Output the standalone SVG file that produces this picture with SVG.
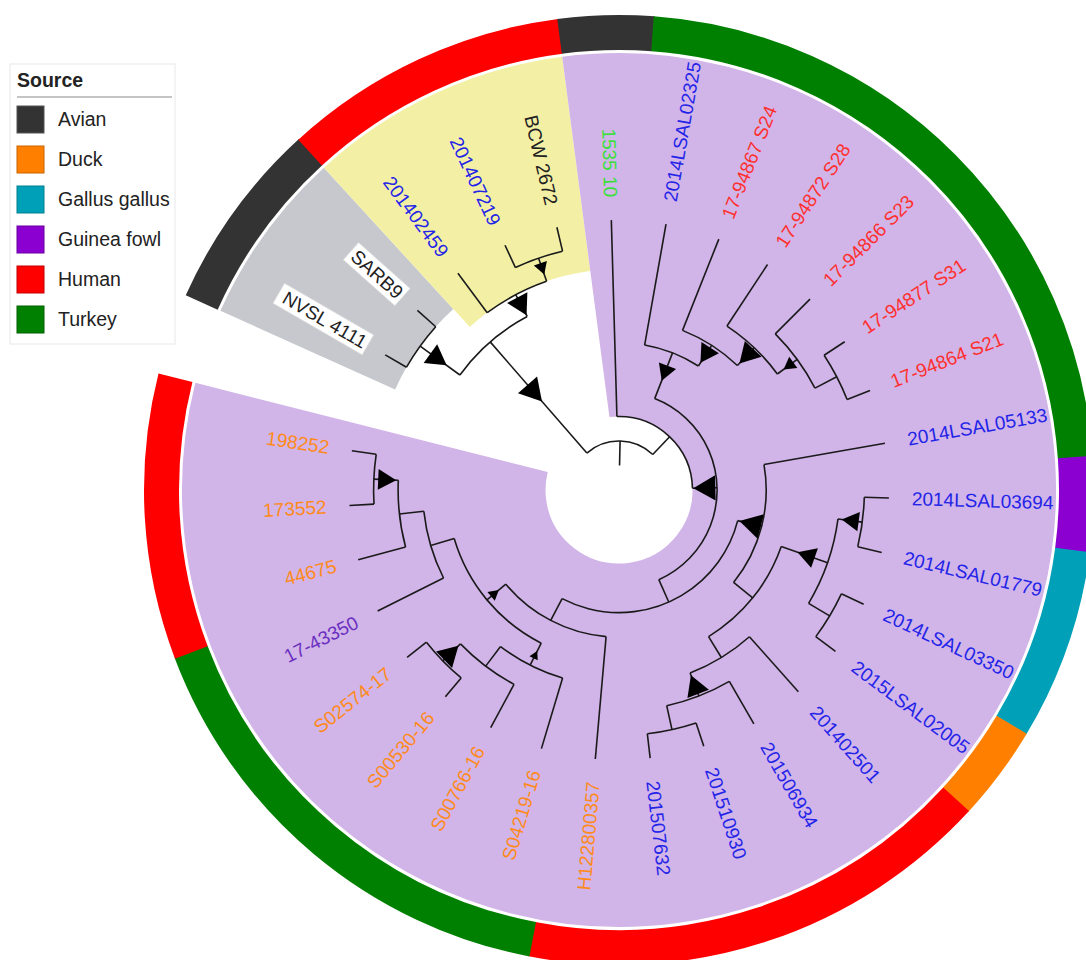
<svg xmlns="http://www.w3.org/2000/svg" xmlns:xlink="http://www.w3.org/1999/xlink" width="1086" height="960" viewBox="0 0 1086 960">
<defs>
<style>
.br{fill:none;stroke:#1a1a1a;stroke-width:1.6}
.ln{stroke:#1a1a1a;stroke-width:1.6}
.seg{fill:none;stroke-width:35}
.lab{font-family:"Liberation Sans",Arial,sans-serif;font-size:19px;dominant-baseline:central}
.blue{fill:#2424e8}.red{fill:#ff3030}.orange{fill:#ff8a1c}.green{fill:#3ae03a}.dark{fill:#222}.purp{fill:#6a30c0}
.leg{font-family:"Liberation Sans",Arial,sans-serif;font-size:19.5px;fill:#222}
</style>
<polygon id="tri" points="-13.3,0 6.7,-11.5 6.7,11.5" fill="#000"/>
</defs>
<rect width="1086" height="960" fill="#fff"/>
<g transform="translate(619,490)">
<g id="highlights">
<circle r="341.2" fill="none" stroke="#c6c8ce" stroke-width="191.6" pathLength="360" stroke-dasharray="23.33 400" transform="rotate(204.2)"/>
<circle r="328.95" fill="none" stroke="#f3f0a6" stroke-width="216.1" pathLength="360" stroke-dasharray="35 400" transform="rotate(227.53)"/>
<circle r="255.25" fill="none" stroke="#d1b4e8" stroke-width="363.5" pathLength="360" stroke-dasharray="291.67 400" transform="rotate(262.53)"/>
</g>
<g id="source-ring">
<circle class="seg" r="457.5" stroke="#333333" pathLength="360" stroke-dasharray="23.43 400" transform="rotate(204.2)"/>
<circle class="seg" r="457.5" stroke="#ff0000" pathLength="360" stroke-dasharray="35.1 400" transform="rotate(227.53)"/>
<circle class="seg" r="457.5" stroke="#333333" pathLength="360" stroke-dasharray="11.77 400" transform="rotate(262.53)"/>
<circle class="seg" r="457.5" stroke="#008000" pathLength="360" stroke-dasharray="81.77 400" transform="rotate(274.2)"/>
<circle class="seg" r="457.5" stroke="#8b00d0" pathLength="360" stroke-dasharray="11.77 400" transform="rotate(355.87)"/>
<circle class="seg" r="457.5" stroke="#00a0b8" pathLength="360" stroke-dasharray="23.43 400" transform="rotate(367.53)"/>
<circle class="seg" r="457.5" stroke="#ff8000" pathLength="360" stroke-dasharray="11.77 400" transform="rotate(390.87)"/>
<circle class="seg" r="457.5" stroke="#ff0000" pathLength="360" stroke-dasharray="58.43 400" transform="rotate(402.53)"/>
<circle class="seg" r="457.5" stroke="#008000" pathLength="360" stroke-dasharray="58.43 400" transform="rotate(460.87)"/>
<circle class="seg" r="457.5" stroke="#ff0000" pathLength="360" stroke-dasharray="35 400" transform="rotate(519.2)"/>
</g>
<g id="branches">
<circle class="br" r="49" pathLength="360" stroke-dasharray="84.54 400" transform="rotate(228.99)"/>
<circle class="br" r="196.3" pathLength="360" stroke-dasharray="26.25 400" transform="rotate(215.87)"/>
<circle class="br" r="245.4" pathLength="360" stroke-dasharray="11.67 400" transform="rotate(210.03)"/>
<circle class="br" r="220.9" pathLength="360" stroke-dasharray="17.5 400" transform="rotate(233.37)"/>
<circle class="br" r="245.4" pathLength="360" stroke-dasharray="11.67 400" transform="rotate(245.03)"/>
<circle class="br" r="73.5" pathLength="360" stroke-dasharray="90.32 400" transform="rotate(268.37)"/>
<circle class="br" r="98.1" pathLength="360" stroke-dasharray="134.72 400" transform="rotate(291.33)"/>
<circle class="br" r="147.2" pathLength="360" stroke-dasharray="22.61 400" transform="rotate(280.03)"/>
<circle class="br" r="171.8" pathLength="360" stroke-dasharray="21.87 400" transform="rotate(291.70)"/>
<circle class="br" r="196.3" pathLength="360" stroke-dasharray="20.41 400" transform="rotate(303.37)"/>
<circle class="br" r="220.9" pathLength="360" stroke-dasharray="17.5 400" transform="rotate(315.03)"/>
<circle class="br" r="245.4" pathLength="360" stroke-dasharray="11.67 400" transform="rotate(326.70)"/>
<circle class="br" r="122.6" pathLength="360" stroke-dasharray="103.18 400" transform="rotate(374.46)"/>
<circle class="br" r="147.2" pathLength="360" stroke-dasharray="48.86 400" transform="rotate(350.03)"/>
<circle class="br" r="171.8" pathLength="360" stroke-dasharray="39.38 400" transform="rotate(379.20)"/>
<circle class="br" r="220.9" pathLength="360" stroke-dasharray="23.34 400" transform="rotate(367.53)"/>
<circle class="br" r="245.4" pathLength="360" stroke-dasharray="11.67 400" transform="rotate(361.70)"/>
<circle class="br" r="245.4" pathLength="360" stroke-dasharray="11.67 400" transform="rotate(385.03)"/>
<circle class="br" r="196.3" pathLength="360" stroke-dasharray="20.41 400" transform="rotate(408.37)"/>
<circle class="br" r="220.9" pathLength="360" stroke-dasharray="17.5 400" transform="rotate(420.03)"/>
<circle class="br" r="245.4" pathLength="360" stroke-dasharray="11.67 400" transform="rotate(431.70)"/>
<circle class="br" r="147.2" pathLength="360" stroke-dasharray="45.21 400" transform="rotate(455.03)"/>
<circle class="br" r="171.8" pathLength="360" stroke-dasharray="46.67 400" transform="rotate(476.91)"/>
<circle class="br" r="196.3" pathLength="360" stroke-dasharray="20.42 400" transform="rotate(466.70)"/>
<circle class="br" r="220.9" pathLength="360" stroke-dasharray="17.5 400" transform="rotate(478.37)"/>
<circle class="br" r="245.4" pathLength="360" stroke-dasharray="11.67 400" transform="rotate(490.03)"/>
<circle class="br" r="196.3" pathLength="360" stroke-dasharray="20.41 400" transform="rotate(513.37)"/>
<circle class="br" r="220.9" pathLength="360" stroke-dasharray="17.5 400" transform="rotate(525.03)"/>
<circle class="br" r="245.4" pathLength="360" stroke-dasharray="11.67 400" transform="rotate(536.70)"/>
<line class="ln" x1="24.4" x2="49" transform="rotate(271.26)"/>
<line class="ln" x1="49" x2="196.3" transform="rotate(228.99)"/>
<line class="ln" x1="49" x2="73.5" transform="rotate(313.53)"/>
<line class="ln" x1="196.3" x2="245.4" transform="rotate(215.87)"/>
<line class="ln" x1="196.3" x2="220.9" transform="rotate(242.12)"/>
<line class="ln" x1="245.4" x2="270" transform="rotate(210.03)"/>
<line class="ln" x1="245.4" x2="270" transform="rotate(221.70)"/>
<line class="ln" x1="220.9" x2="270" transform="rotate(233.37)"/>
<line class="ln" x1="220.9" x2="245.4" transform="rotate(250.87)"/>
<line class="ln" x1="245.4" x2="270" transform="rotate(245.03)"/>
<line class="ln" x1="245.4" x2="270" transform="rotate(256.70)"/>
<line class="ln" x1="73.5" x2="270" transform="rotate(268.37)"/>
<line class="ln" x1="73.5" x2="98.1" transform="rotate(358.69)"/>
<line class="ln" x1="98.1" x2="147.2" transform="rotate(291.33)"/>
<line class="ln" x1="98.1" x2="122.6" transform="rotate(426.05)"/>
<line class="ln" x1="147.2" x2="270" transform="rotate(280.03)"/>
<line class="ln" x1="147.2" x2="171.8" transform="rotate(302.64)"/>
<line class="ln" x1="171.8" x2="270" transform="rotate(291.70)"/>
<line class="ln" x1="171.8" x2="196.3" transform="rotate(313.57)"/>
<line class="ln" x1="196.3" x2="270" transform="rotate(303.37)"/>
<line class="ln" x1="196.3" x2="220.9" transform="rotate(323.78)"/>
<line class="ln" x1="220.9" x2="270" transform="rotate(315.03)"/>
<line class="ln" x1="220.9" x2="245.4" transform="rotate(332.53)"/>
<line class="ln" x1="245.4" x2="270" transform="rotate(326.70)"/>
<line class="ln" x1="245.4" x2="270" transform="rotate(338.37)"/>
<line class="ln" x1="122.6" x2="147.2" transform="rotate(374.46)"/>
<line class="ln" x1="122.6" x2="147.2" transform="rotate(477.64)"/>
<line class="ln" x1="147.2" x2="270" transform="rotate(350.03)"/>
<line class="ln" x1="147.2" x2="171.8" transform="rotate(398.89)"/>
<line class="ln" x1="171.8" x2="220.9" transform="rotate(379.20)"/>
<line class="ln" x1="171.8" x2="196.3" transform="rotate(418.58)"/>
<line class="ln" x1="220.9" x2="245.4" transform="rotate(367.53)"/>
<line class="ln" x1="220.9" x2="245.4" transform="rotate(390.87)"/>
<line class="ln" x1="245.4" x2="270" transform="rotate(361.70)"/>
<line class="ln" x1="245.4" x2="270" transform="rotate(373.37)"/>
<line class="ln" x1="245.4" x2="270" transform="rotate(385.03)"/>
<line class="ln" x1="245.4" x2="270" transform="rotate(396.70)"/>
<line class="ln" x1="196.3" x2="270" transform="rotate(408.37)"/>
<line class="ln" x1="196.3" x2="220.9" transform="rotate(428.78)"/>
<line class="ln" x1="220.9" x2="270" transform="rotate(420.03)"/>
<line class="ln" x1="220.9" x2="245.4" transform="rotate(437.53)"/>
<line class="ln" x1="245.4" x2="270" transform="rotate(431.70)"/>
<line class="ln" x1="245.4" x2="270" transform="rotate(443.37)"/>
<line class="ln" x1="147.2" x2="270" transform="rotate(455.03)"/>
<line class="ln" x1="147.2" x2="171.8" transform="rotate(500.24)"/>
<line class="ln" x1="171.8" x2="196.3" transform="rotate(476.91)"/>
<line class="ln" x1="171.8" x2="196.3" transform="rotate(523.58)"/>
<line class="ln" x1="196.3" x2="270" transform="rotate(466.70)"/>
<line class="ln" x1="196.3" x2="220.9" transform="rotate(487.12)"/>
<line class="ln" x1="220.9" x2="270" transform="rotate(478.37)"/>
<line class="ln" x1="220.9" x2="245.4" transform="rotate(495.87)"/>
<line class="ln" x1="245.4" x2="270" transform="rotate(490.03)"/>
<line class="ln" x1="245.4" x2="270" transform="rotate(501.70)"/>
<line class="ln" x1="196.3" x2="270" transform="rotate(513.37)"/>
<line class="ln" x1="196.3" x2="220.9" transform="rotate(533.78)"/>
<line class="ln" x1="220.9" x2="270" transform="rotate(525.03)"/>
<line class="ln" x1="220.9" x2="245.4" transform="rotate(542.53)"/>
<line class="ln" x1="245.4" x2="270" transform="rotate(536.70)"/>
<line class="ln" x1="245.4" x2="270" transform="rotate(548.37)"/>
</g>
<g id="support">
<use xlink:href="#tri" transform="rotate(228.99) translate(132,0) scale(1.1)"/>
<use xlink:href="#tri" transform="rotate(215.87) translate(226,0) scale(1.0)"/>
<use xlink:href="#tri" transform="rotate(242.12) translate(211,0) scale(1.0)"/>
<use xlink:href="#tri" transform="rotate(250.87) translate(236,0) scale(0.6)"/>
<use xlink:href="#tri" transform="rotate(358.69) translate(89,0) scale(1.1)"/>
<use xlink:href="#tri" transform="rotate(291.33) translate(128,0) scale(0.8)"/>
<use xlink:href="#tri" transform="rotate(302.64) translate(163,0) scale(0.9)"/>
<use xlink:href="#tri" transform="rotate(313.57) translate(188,0) scale(1.0)"/>
<use xlink:href="#tri" transform="rotate(323.78) translate(212,0) scale(0.6)"/>
<use xlink:href="#tri" transform="rotate(374.46) translate(139,0) scale(1.1)"/>
<use xlink:href="#tri" transform="rotate(379.20) translate(201,0) scale(0.9)"/>
<use xlink:href="#tri" transform="rotate(367.53) translate(236,0) scale(0.85)"/>
<use xlink:href="#tri" transform="rotate(428.78) translate(212,0) scale(1.0)"/>
<use xlink:href="#tri" transform="rotate(500.24) translate(163,0) scale(0.5)"/>
<use xlink:href="#tri" transform="rotate(476.91) translate(186,0) scale(0.4)"/>
<use xlink:href="#tri" transform="rotate(495.87) translate(237,0) scale(1.0)"/>
<use xlink:href="#tri" transform="rotate(542.53) translate(235,0) scale(0.9)"/>
</g>
<g id="leaf-NVSL4111" transform="rotate(210.03) translate(293,0) rotate(180)"><rect x="-100" y="-11.5" width="103" height="23" fill="#fff" stroke="#ddd" stroke-width="0.8"/><text class="lab dark" text-anchor="end">NVSL 4111</text></g>
<g id="leaf-SARB9" transform="rotate(221.70) translate(293,0) rotate(180)"><rect x="-66" y="-11.5" width="69" height="23" fill="#fff" stroke="#ddd" stroke-width="0.8"/><text class="lab dark" text-anchor="end">SARB9</text></g>
<g id="leaf-201402459"><text class="lab blue" text-anchor="end" transform="rotate(233.37) translate(293,0) rotate(180)">201402459</text></g>
<g id="leaf-201407219"><text class="lab blue" text-anchor="end" transform="rotate(245.03) translate(293,0) rotate(180)">201407219</text></g>
<g id="leaf-BCW2672"><text class="lab dark" text-anchor="end" transform="rotate(256.70) translate(293,0) rotate(180)">BCW 2672</text></g>
<g id="leaf-1535-10"><text class="lab green" text-anchor="end" transform="rotate(268.37) translate(293,0) rotate(180)">1535 10</text></g>
<g id="leaf-2014LSAL02325"><text class="lab blue" transform="rotate(280.03) translate(293,0)">2014LSAL02325</text></g>
<g id="leaf-17-94867"><text class="lab red" transform="rotate(291.70) translate(293,0)">17-94867 S24</text></g>
<g id="leaf-17-94872"><text class="lab red" transform="rotate(303.37) translate(293,0)">17-94872 S28</text></g>
<g id="leaf-17-94866"><text class="lab red" transform="rotate(315.03) translate(293,0)">17-94866 S23</text></g>
<g id="leaf-17-94877"><text class="lab red" transform="rotate(326.70) translate(293,0)">17-94877 S31</text></g>
<g id="leaf-17-94864"><text class="lab red" transform="rotate(338.37) translate(293,0)">17-94864 S21</text></g>
<g id="leaf-2014LSAL05133"><text class="lab blue" transform="rotate(350.03) translate(293,0)">2014LSAL05133</text></g>
<g id="leaf-2014LSAL03694"><text class="lab blue" transform="rotate(361.70) translate(293,0)">2014LSAL03694</text></g>
<g id="leaf-2014LSAL01779"><text class="lab blue" transform="rotate(373.37) translate(293,0)">2014LSAL01779</text></g>
<g id="leaf-2014LSAL03350"><text class="lab blue" transform="rotate(385.03) translate(293,0)">2014LSAL03350</text></g>
<g id="leaf-2015LSAL02005"><text class="lab blue" transform="rotate(396.70) translate(293,0)">2015LSAL02005</text></g>
<g id="leaf-201402501"><text class="lab blue" transform="rotate(408.37) translate(293,0)">201402501</text></g>
<g id="leaf-201506934"><text class="lab blue" transform="rotate(420.03) translate(293,0)">201506934</text></g>
<g id="leaf-201510930"><text class="lab blue" transform="rotate(431.70) translate(293,0)">201510930</text></g>
<g id="leaf-201507632"><text class="lab blue" transform="rotate(443.37) translate(293,0)">201507632</text></g>
<g id="leaf-H122800357"><text class="lab orange" text-anchor="end" transform="rotate(455.03) translate(293,0) rotate(180)">H122800357</text></g>
<g id="leaf-S04219-16"><text class="lab orange" text-anchor="end" transform="rotate(466.70) translate(293,0) rotate(180)">S04219-16</text></g>
<g id="leaf-S00766-16"><text class="lab orange" text-anchor="end" transform="rotate(478.37) translate(293,0) rotate(180)">S00766-16</text></g>
<g id="leaf-S00530-16"><text class="lab orange" text-anchor="end" transform="rotate(490.03) translate(293,0) rotate(180)">S00530-16</text></g>
<g id="leaf-S02574-17"><text class="lab orange" text-anchor="end" transform="rotate(501.70) translate(293,0) rotate(180)">S02574-17</text></g>
<g id="leaf-17-43350"><text class="lab purp" text-anchor="end" transform="rotate(513.37) translate(293,0) rotate(180)">17-43350</text></g>
<g id="leaf-44675"><text class="lab orange" text-anchor="end" transform="rotate(525.03) translate(293,0) rotate(180)">44675</text></g>
<g id="leaf-173552"><text class="lab orange" text-anchor="end" transform="rotate(536.70) translate(293,0) rotate(180)">173552</text></g>
<g id="leaf-198252"><text class="lab orange" text-anchor="end" transform="rotate(548.37) translate(293,0) rotate(180)">198252</text></g>
</g>
<g id="legend">
<rect x="10" y="64" width="165" height="280" fill="#fff" stroke="#e8e8e8"/>
<text class="leg" x="17" y="87" font-weight="bold">Source</text>
<line x1="17" y1="97" x2="172" y2="97" stroke="#8a8a8a" stroke-width="1.2"/>
<rect x="17" y="106" width="27" height="27" fill="#333333" stroke="#555"/>
<text class="leg" x="58" y="126">Avian</text>
<rect x="17" y="146" width="27" height="27" fill="#ff8000" stroke="#c86400"/>
<text class="leg" x="58" y="166">Duck</text>
<rect x="17" y="186" width="27" height="27" fill="#00a0b8" stroke="#00808f"/>
<text class="leg" x="58" y="206">Gallus gallus</text>
<rect x="17" y="226" width="27" height="27" fill="#8b00d0" stroke="#6a00a0"/>
<text class="leg" x="58" y="246">Guinea fowl</text>
<rect x="17" y="266" width="27" height="27" fill="#ff0000" stroke="#c00000"/>
<text class="leg" x="58" y="286">Human</text>
<rect x="17" y="306" width="27" height="27" fill="#008000" stroke="#006000"/>
<text class="leg" x="58" y="326">Turkey</text>
</g>
</svg>
